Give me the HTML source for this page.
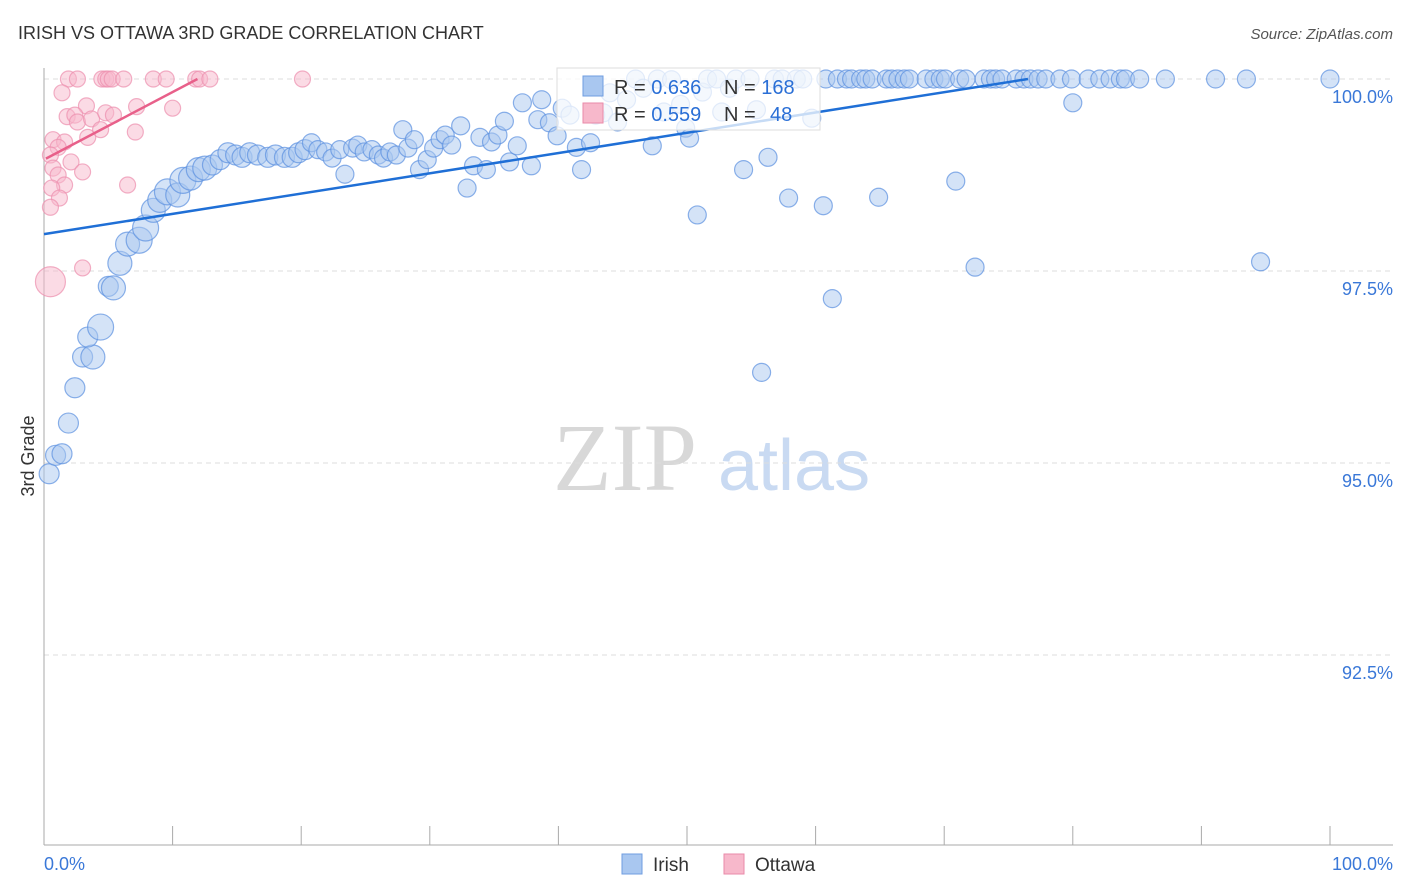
<!DOCTYPE html>
<html><head><meta charset="utf-8"><style>
body{margin:0;background:#fff;font-family:"Liberation Sans",sans-serif;}
svg{display:block}
</style></head><body>
<svg id="chart" width="1406" height="892" viewBox="0 0 1406 892">
<text x="18" y="39" font-size="18" fill="#333">IRISH VS OTTAWA 3RD GRADE CORRELATION CHART</text>
<text x="1393" y="39" font-size="15" fill="#555" font-style="italic" text-anchor="end">Source: ZipAtlas.com</text>
<g>
<text x="553" y="490" font-family="Liberation Serif,serif" font-size="96" fill="#d8d8d8">ZIP</text>
<text x="718" y="490" font-size="72" fill="#c9daf2">atlas</text>
</g>
<g id="grid"></g>
<g id="axes"></g>
<g id="pts"></g>
<g id="lines"></g>
<text transform="translate(34,456) rotate(-90)" text-anchor="middle" font-size="18" fill="#333">3rd Grade</text>
<g>
<rect x="557" y="68" width="263" height="62" fill="#fff" fill-opacity="0.75" stroke="#ddd"/>
<rect x="583" y="76" width="20" height="20" fill="#a9c7f0" stroke="#6f9de0"/>
<rect x="583" y="103" width="20" height="20" fill="#f7b8cb" stroke="#ea8aa8"/>
<text x="614" y="94" font-size="20" fill="#333">R = <tspan fill="#2a6fd6">0.636</tspan><tspan x="724">N = </tspan><tspan fill="#2a6fd6">168</tspan></text>
<text x="614" y="121" font-size="20" fill="#333">R = <tspan fill="#2a6fd6">0.559</tspan><tspan x="724">N = </tspan><tspan fill="#2a6fd6" x="770">48</tspan></text>
</g>
<g>
<rect x="622" y="854" width="20" height="20" fill="#a9c7f0" stroke="#6f9de0"/>
<text x="653" y="871" font-size="19" fill="#333">Irish</text>
<rect x="724" y="854" width="20" height="20" fill="#f7b8cb" stroke="#ea8aa8"/>
<text x="755" y="871" font-size="19" fill="#333">Ottawa</text>
</g>
</svg>
<script>
const yTicks=[100,97.5,95,92.5];
const yTickLabels=["100.0%","97.5%","95.0%","92.5%"];
const xTicks=[0,10,20,30,40,50,60,70,80,90,100];
const irishX=[0.4,0.9,1.4,1.9,2.4,3.0,3.8,3.4,4.4,5.0,5.4,5.9,6.5,7.4,7.9,8.5,9.0,9.6,10.4,10.8,11.4,12.0,12.5,13.1,13.7,14.3,14.9,15.4,16.0,16.6,17.4,18.0,18.7,19.3,19.8,20.3,20.8,21.3,21.9,22.4,23.0,23.4,24.0,24.4,24.9,25.5,26.0,26.4,26.9,27.4,27.9,28.3,28.8,29.2,29.8,30.3,30.8,31.2,31.7,32.4,32.9,33.4,33.9,34.4,34.8,35.3,35.8,36.2,36.8,37.2,37.9,38.4,38.7,39.3,39.9,40.3,40.9,41.4,41.8,42.5,42.9,43.5,44.0,44.6,45.3,46.0,46.6,47.3,47.7,48.2,48.8,49.5,49.9,50.2,50.8,51.2,51.6,52.3,52.7,53.3,53.8,54.4,54.9,55.4,55.8,56.3,56.8,57.4,57.9,58.5,59.0,59.7,60.6,60.8,61.3,61.7,62.4,62.8,63.5,63.9,64.4,64.9,65.5,65.9,66.4,66.9,67.3,68.6,69.2,69.7,70.1,70.9,71.2,71.7,72.4,73.1,73.6,74.0,74.5,75.6,76.2,76.7,77.3,77.9,79.0,79.9,80.0,81.2,82.1,82.9,83.7,84.1,85.2,87.2,91.1,93.5,94.6,100];
const irishY=[94.86,95.10,95.12,95.52,95.98,96.38,96.38,96.64,96.77,97.30,97.28,97.60,97.85,97.90,98.06,98.29,98.42,98.53,98.49,98.68,98.71,98.82,98.84,98.88,98.95,99.04,99.01,98.98,99.04,99.01,98.98,99.01,98.98,98.98,99.04,99.08,99.17,99.08,99.05,98.97,99.08,98.76,99.10,99.14,99.05,99.08,99.01,98.97,99.05,99.01,99.34,99.10,99.21,98.82,98.95,99.10,99.21,99.27,99.14,99.39,98.58,98.87,99.24,98.82,99.18,99.27,99.45,98.92,99.13,99.69,98.87,99.47,99.73,99.43,99.26,99.62,99.53,99.11,98.82,99.17,99.53,99.56,99.82,99.44,99.73,100,99.88,99.13,100,99.57,99.99,99.67,99.36,99.23,98.23,99.83,100,100,99.57,99.88,100,98.82,100,99.60,96.18,98.98,100,100,98.45,100,100,99.49,98.35,100,97.14,100,100,100,100,100,100,98.46,100,100,100,100,100,100,100,100,100,98.67,100,100,97.55,100,100,100,100,100,100,100,100,100,100,100,99.69,100,100,100,100,100,100,100,100,100,97.62,100];
const irishSize=[10,10,10,10,10,10,12,10,13,10,12,12,12,13,13,12,12,13,12,13,12,12,12,10,10,10,10,10,10,10,10,10,10,10,10,10];
const ottawaX=[1.9,2.6,4.5,4.8,5.0,5.3,6.2,8.5,9.5,11.8,12.1,12.9,20.1,1.4,3.3,7.2,10.0,1.8,2.4,2.6,3.7,4.8,5.4,7.1,4.4,3.4,0.7,1.6,1.1,0.5,2.1,3.0,0.7,1.1,1.6,0.6,1.2,0.5,6.5,3.0,0.5];
const ottawaY=[100,100,100,100,100,100,100,100,100,100,100,100,100,99.82,99.65,99.64,99.62,99.51,99.53,99.44,99.48,99.56,99.53,99.31,99.34,99.24,99.21,99.18,99.11,99.01,98.92,98.79,98.84,98.75,98.62,98.58,98.45,98.33,98.62,97.54,97.36];
const ottawaSize=[];ottawaSize[40]=15;
const irishFit=[97.98,0.0264];
const ottawaFit=[98.95,0.088];

const X=v=>44+v*12.86, Y=v=>79+(100-v)*76.8;
const NS="http://www.w3.org/2000/svg";
function mk(t,a,p){const e=document.createElementNS(NS,t);for(const k in a)e.setAttribute(k,a[k]);p.appendChild(e);return e;}
const grid=document.getElementById('grid'),axes=document.getElementById('axes'),pts=document.getElementById('pts'),lines=document.getElementById('lines');
yTicks.forEach((t,i)=>{
  const l=mk('line',{x1:44,x2:1393,y1:Y(t),y2:Y(t),stroke:'#ddd','stroke-dasharray':'5,4'},grid);
  
  
  const tx=mk('text',{x:1393,y:Y(t)+24,'text-anchor':'end','font-size':18,fill:'#3a78d8'},axes);
  tx.textContent=yTickLabels[i];
  
  
});
const ya=mk('line',{x1:44,x2:44,y1:68,y2:845,stroke:'#aaa'},axes);


const xa=mk('line',{x1:44,x2:1393,y1:845,y2:845,stroke:'#aaa'},axes);


xTicks.forEach(t=>{
  const l=mk('line',{x1:X(t),x2:X(t),y1:826,y2:845,stroke:'#aaa'},axes);
  
  
});
const x0=mk('text',{x:44,y:870,'font-size':18,fill:'#3a78d8'},axes);x0.textContent='0.0%';


const x1=mk('text',{x:1393,y:870,'font-size':18,fill:'#3a78d8','text-anchor':'end'},axes);x1.textContent='100.0%';


irishX.forEach((v,i)=>{
  const c=mk('circle',{cx:X(v),cy:Y(irishY[i]),r:irishSize[i]||9,fill:'#a9c7f0','fill-opacity':0.5,stroke:'#5b90e0','stroke-opacity':0.7,'stroke-width':1.2},pts);
  
  
});
ottawaX.forEach((v,i)=>{
  const c=mk('circle',{cx:X(v),cy:Y(ottawaY[i]),r:ottawaSize[i]||8,fill:'#f7b8cb','fill-opacity':0.5,stroke:'#ec8fae','stroke-opacity':0.7,'stroke-width':1.2},pts);
  
  
});
function fit(f,col,name,x0){
  const xe=Math.min(100,(100-f[0])/f[1]);
  const l=mk('line',{x1:X(x0),y1:Y(f[0]+f[1]*x0),x2:X(xe),y2:Y(f[0]+f[1]*xe),stroke:col,'stroke-width':2.5},lines);
  
  
}
fit(irishFit,'#1f6fd6','irish-trend-line',0);
fit(ottawaFit,'#e8608a','ottawa-trend-line',0.15);
</script>
</body></html>
